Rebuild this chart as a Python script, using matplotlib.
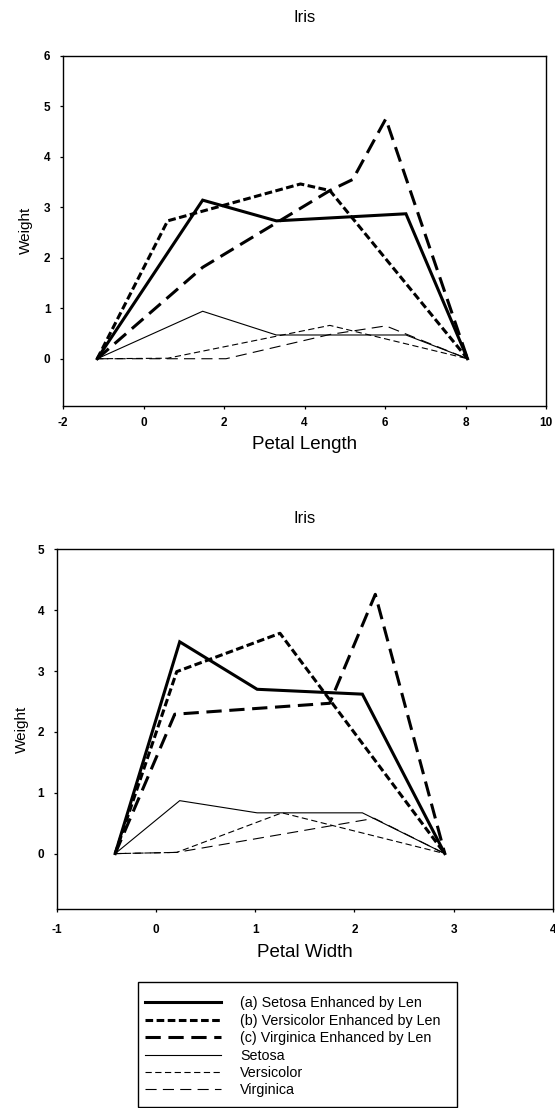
import matplotlib
matplotlib.use("Agg")
import matplotlib.pyplot as plt
from matplotlib.patches import Rectangle

plt.rcParams['font.family'] = ['Liberation Sans', 'DejaVu Sans']
plt.rcParams['lines.scale_dashes'] = False

# ---------------- data: top panel (Petal Length) ----------------
len_setosa_enh_x = [-1.15, 1.47, 3.30, 6.52, 8.05]
len_setosa_enh_y = [0.0, 3.14, 2.73, 2.87, 0.0]
len_versi_enh_x = [-1.15, 0.60, 3.90, 4.63, 8.05]
len_versi_enh_y = [0.0, 2.73, 3.46, 3.33, 0.0]
len_virg_enh_x = [-1.15, 1.47, 4.63, 5.20, 6.02, 8.05]
len_virg_enh_y = [0.0, 1.81, 3.33, 3.55, 4.75, 0.0]
len_setosa_x = [-1.15, 1.47, 3.30, 6.52, 8.05]
len_setosa_y = [0.0, 0.94, 0.47, 0.47, 0.0]
len_versi_x = [-1.15, 0.60, 4.63, 8.05]
len_versi_y = [0.0, 0.01, 0.66, 0.0]
len_virg_x = [-1.15, 2.05, 4.63, 6.02, 8.05]
len_virg_y = [0.0, 0.0, 0.48, 0.65, 0.0]

# ---------------- data: bottom panel (Petal Width) ----------------
wid_setosa_enh_x = [-0.41, 0.24, 1.02, 2.08, 2.91]
wid_setosa_enh_y = [0.0, 3.48, 2.70, 2.62, 0.0]
wid_versi_enh_x = [-0.41, 0.21, 1.25, 2.91]
wid_versi_enh_y = [0.0, 2.99, 3.62, 0.0]
wid_virg_enh_x = [-0.41, 0.19, 1.75, 2.21, 2.91]
wid_virg_enh_y = [0.0, 2.29, 2.47, 4.26, 0.0]
wid_setosa_x = [-0.41, 0.24, 1.02, 2.08, 2.91]
wid_setosa_y = [0.0, 0.87, 0.67, 0.67, 0.0]
wid_versi_x = [-0.41, 0.21, 1.27, 2.91]
wid_versi_y = [0.0, 0.02, 0.67, 0.0]
wid_virg_x = [-0.41, 0.21, 2.20, 2.91]
wid_virg_y = [0.0, 0.02, 0.58, 0.0]

labels = ["(a) Setosa Enhanced by Len", "(b) Versicolor Enhanced by Len",
          "(c) Virginica Enhanced by Len", "Setosa", "Versicolor", "Virginica"]

len_xticks = [-2, 0, 2, 4, 6, 8, 10]
len_yticks = [0, 1, 2, 3, 4, 5, 6]
wid_xticks = [-1, 0, 1, 2, 3, 4]
wid_yticks = [0, 1, 2, 3, 4, 5]

THICK = 2.2
THIN = 0.8
styles = [
    dict(lw=THICK, ls='-'),
    dict(lw=THICK, ls=(0, (5.5, 2.5))),
    dict(lw=THICK, ls=(0, (11, 5.5))),
    dict(lw=THIN, ls='-'),
    dict(lw=THIN, ls=(0, (4.5, 2.5))),
    dict(lw=THIN, ls=(0, (8, 4.5))),
]

W, H = 555, 1108
fig = plt.figure(figsize=(W / 100, H / 100), dpi=100)


def frac(left, top, right, bottom):
    return [left / W, 1 - bottom / H, (right - left) / W, (bottom - top) / H]


ax1 = fig.add_axes(frac(63, 55.7, 546, 405.7))
ax2 = fig.add_axes(frac(56.6, 549.3, 553, 909))

series1 = [(len_setosa_enh_x, len_setosa_enh_y), (len_versi_enh_x, len_versi_enh_y),
           (len_virg_enh_x, len_virg_enh_y), (len_setosa_x, len_setosa_y),
           (len_versi_x, len_versi_y), (len_virg_x, len_virg_y)]
series2 = [(wid_setosa_enh_x, wid_setosa_enh_y), (wid_versi_enh_x, wid_versi_enh_y),
           (wid_virg_enh_x, wid_virg_enh_y), (wid_setosa_x, wid_setosa_y),
           (wid_versi_x, wid_versi_y), (wid_virg_x, wid_virg_y)]

handles = []
for (x, y), st, lab in zip(series1, styles, labels):
    h, = ax1.plot(x, y, color='black', label=lab, solid_joinstyle='miter',
                  dash_capstyle='butt', **st)
    handles.append(h)
for (x, y), st in zip(series2, styles):
    ax2.plot(x, y, color='black', solid_joinstyle='miter', dash_capstyle='butt', **st)


def style_axes(ax, xticks, yticks, xlim, ylim, xlabel, title_pad, xpad, xlabelpad, ylabelpad):
    ax.set_xlim(*xlim)
    ax.set_ylim(*ylim)
    ax.set_xticks(xticks)
    ax.set_yticks(yticks)
    ax.set_xticklabels([str(t) for t in xticks], fontsize=8.5, fontweight='bold')
    ax.set_yticklabels([str(t) for t in yticks], fontsize=8.5, fontweight='bold')
    ax.tick_params(direction='out', length=2.5, width=0.9, color='black')
    ax.tick_params(axis='x', pad=xpad)
    ax.tick_params(axis='y', pad=6.5)
    for s in ax.spines.values():
        s.set_linewidth(1.0)
        s.set_color('black')
    ax.set_xlabel(xlabel, fontsize=13.5, labelpad=xlabelpad)
    ax.set_ylabel("Weight", fontsize=11, labelpad=ylabelpad)
    ax.set_title("Iris", fontsize=12, pad=title_pad)


style_axes(ax1, len_xticks, len_yticks, (-2, 10), (-0.93, 6), "Petal Length",
           title_pad=24, xpad=5.5, xlabelpad=5, ylabelpad=8)
style_axes(ax2, wid_xticks, wid_yticks, (-1, 4), (-0.91, 5), "Petal Width",
           title_pad=19, xpad=8.5, xlabelpad=5.5, ylabelpad=6.5)

# legend box (frame drawn separately in figure pixels)
box_l, box_t, box_r, box_b = 138, 981.7, 457, 1106.7
fig.patches.append(Rectangle((box_l / W, 1 - box_b / H), (box_r - box_l) / W,
                             (box_b - box_t) / H, transform=fig.transFigure,
                             fill=False, edgecolor='black', linewidth=1.0))

fs = 10.3
leg = fig.legend(handles=handles, labels=labels, loc='upper left',
                 bbox_to_anchor=(145 / W, 1 - 996.5 / H), fontsize=fs,
                 frameon=False, handlelength=5.3, handletextpad=1.35,
                 labelspacing=0.235, borderpad=0, borderaxespad=0)

fig.savefig("out.png", dpi=100, facecolor='white')
